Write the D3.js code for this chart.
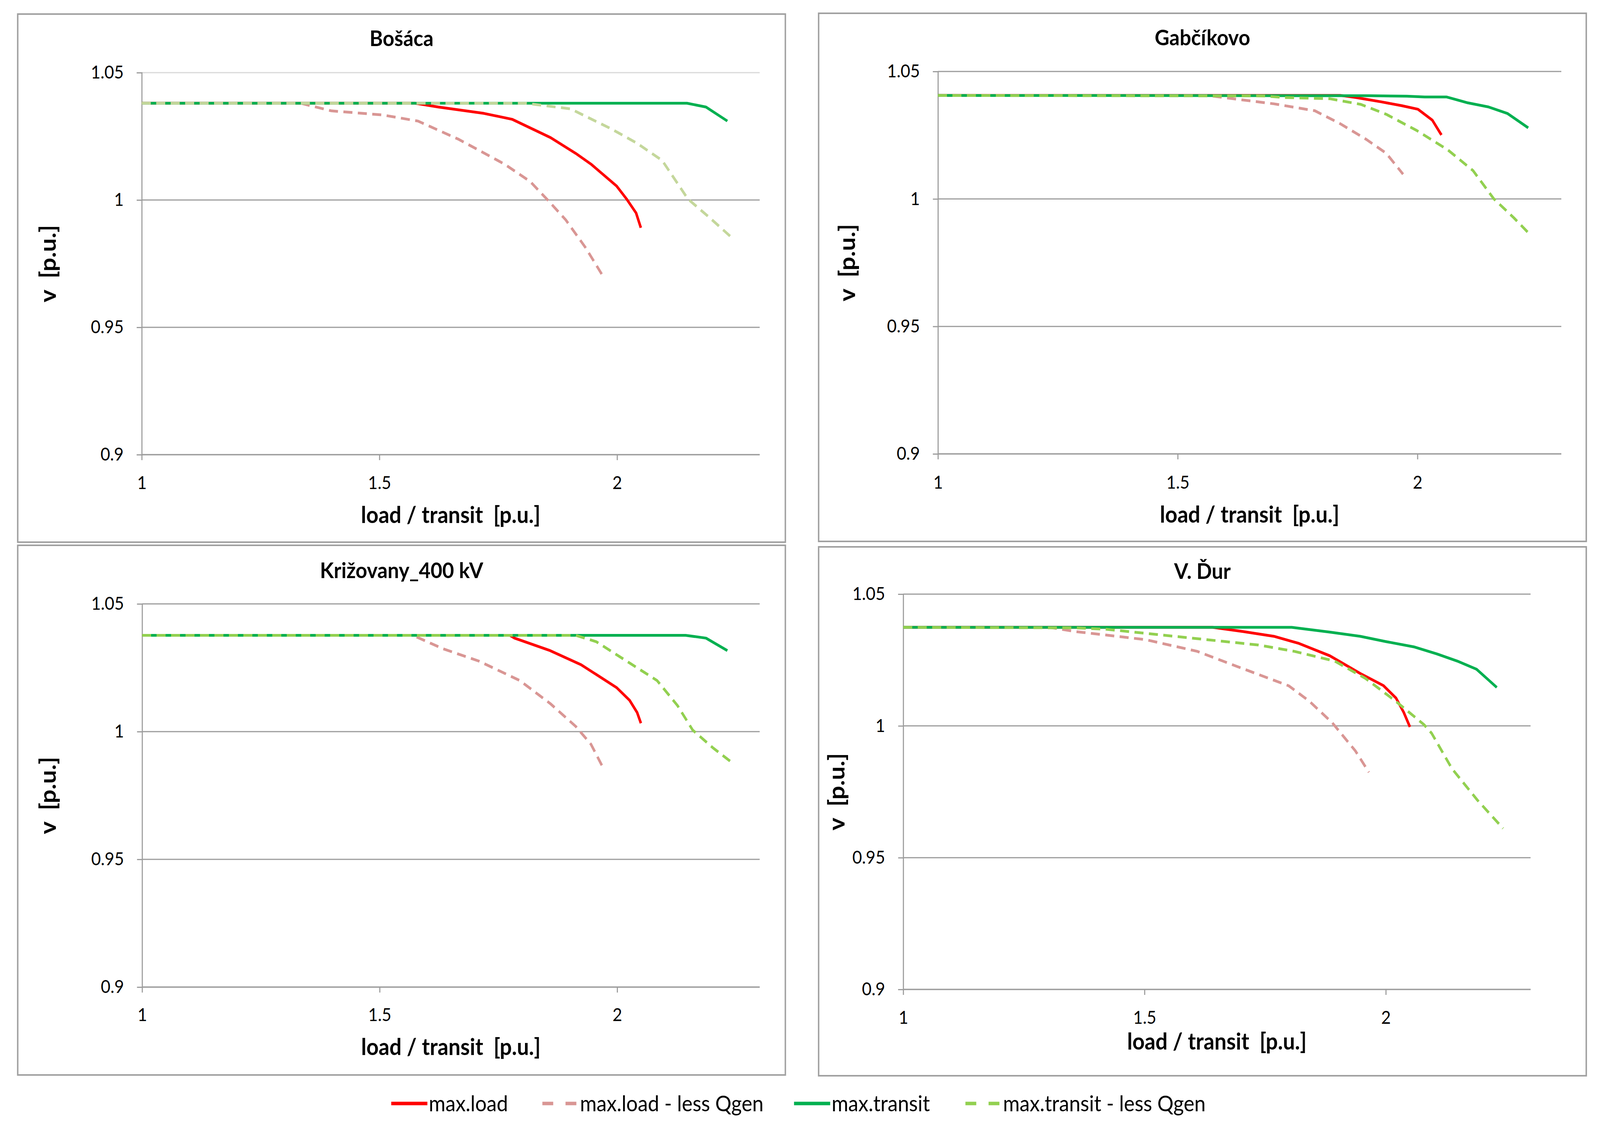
<!DOCTYPE html>
<html>
<head>
<meta charset="utf-8">
<script src="https://cdn.jsdelivr.net/npm/d3@7"></script>
<style>
  html, body { margin: 0; padding: 0; background: #fff; overflow: hidden; }
  svg { display: block; }
  text { font-family: Lato, "Open Sans", sans-serif; fill: #000; }
</style>
</head>
<body>
<div id="chart-container"></div>
<script>
// values: [load / transit, v]
var bosacaMaxLoad = [[1, 1.038], [1.575, 1.038], [1.624, 1.0365], [1.72, 1.034], [1.779, 1.0317], [1.86, 1.0245],
    [1.913, 1.0183], [1.945, 1.0141], [1.999, 1.0055], [2.02, 1.0004], [2.04, 0.9949], [2.05, 0.9891]];
var bosacaLoadLessQ = [[1, 1.038], [1.334, 1.038], [1.399, 1.035], [1.506, 1.0334], [1.581, 1.031], [1.667, 1.0238],
    [1.763, 1.0141], [1.817, 1.0073], [1.854, 1.0], [1.892, 0.9922], [1.934, 0.9812], [1.97, 0.9702]];
var bosacaMaxTransit = [[1, 1.038], [2.147, 1.038], [2.187, 1.0365], [2.232, 1.031]];
var bosacaTransitLessQ = [[1, 1.038], [1.806, 1.038], [1.902, 1.0358], [1.988, 1.0279], [2.041, 1.0224], [2.095, 1.0155],
    [2.149, 1.0004], [2.192, 0.9935], [2.245, 0.9846]];

var gabcikovoMaxLoad = [[1, 1.0406], [1.84, 1.0406], [1.871, 1.0398], [1.924, 1.0381], [1.967, 1.0366], [2.001, 1.0352],
    [2.031, 1.0309], [2.05, 1.0251]];
var gabcikovoLoadLessQ = [[1, 1.0406], [1.563, 1.0406], [1.616, 1.0393], [1.701, 1.0373], [1.786, 1.0346], [1.839, 1.0295],
    [1.893, 1.0234], [1.935, 1.0179], [1.97, 1.0097]];
var gabcikovoMaxTransit = [[1, 1.0406], [1.9, 1.0405], [1.978, 1.0403], [2.015, 1.04], [2.061, 1.04], [2.105, 1.0377],
    [2.148, 1.0361], [2.188, 1.0335], [2.231, 1.0279]];
var gabcikovoTransitLessQ = [[1, 1.0406], [1.68, 1.0404], [1.722, 1.0398], [1.818, 1.0393], [1.882, 1.0371], [1.935, 1.0332],
    [1.999, 1.0268], [2.063, 1.0193], [2.116, 1.0111], [2.159, 1.0001], [2.201, 0.9926], [2.236, 0.9858]];

var krizovanyMaxLoad = [[1, 1.0377], [1.774, 1.0377], [1.784, 1.0366], [1.859, 1.0317], [1.924, 1.0262], [1.999, 1.0172],
    [2.026, 1.0123], [2.042, 1.0075], [2.05, 1.0033]];
var krizovanyLoadLessQ = [[1, 1.0377], [1.57, 1.0377], [1.634, 1.0324], [1.709, 1.0276], [1.795, 1.02], [1.859, 1.011],
    [1.913, 1.002], [1.945, 0.995], [1.97, 0.986]];
var krizovanyMaxTransit = [[1, 1.0377], [2.144, 1.0377], [2.187, 1.0366], [2.232, 1.0317]];
var krizovanyTransitLessQ = [[1, 1.0377], [1.913, 1.0377], [1.956, 1.0352], [2.02, 1.0276], [2.084, 1.02], [2.127, 1.0102],
    [2.159, 1.0006], [2.202, 0.9936], [2.245, 0.9874]];

var vdurMaxLoad = [[1, 1.0374], [1.641, 1.0374], [1.704, 1.0358], [1.768, 1.034], [1.82, 1.0313], [1.884, 1.0266],
    [1.947, 1.0199], [1.995, 1.0153], [2.021, 1.0106], [2.037, 1.0052], [2.05, 0.9996]];
var vdurLoadLessQ = [[1, 1.0374], [1.303, 1.0374], [1.356, 1.0358], [1.419, 1.0345], [1.503, 1.0327], [1.609, 1.0283],
    [1.694, 1.0224], [1.799, 1.0152], [1.842, 1.0093], [1.889, 1.0012], [1.937, 0.9905], [1.965, 0.9824]];
var vdurMaxTransit = [[1, 1.0374], [1.805, 1.0374], [1.884, 1.0356], [1.947, 1.034], [2.0, 1.032], [2.058, 1.03],
    [2.106, 1.0273], [2.148, 1.0246], [2.188, 1.0215], [2.23, 1.0146]];
var vdurTransitLessQ = [[1, 1.0374], [1.356, 1.0372], [1.419, 1.0367], [1.525, 1.0347], [1.63, 1.0327], [1.736, 1.0307],
    [1.81, 1.0283], [1.894, 1.0246], [1.958, 1.018], [2.021, 1.0093], [2.079, 1.0005], [2.095, 0.9972],
    [2.137, 0.9838], [2.19, 0.9718], [2.243, 0.9611]];

var seriesNames = ["max.load", "max.load - less Qgen", "max.transit", "max.transit - less Qgen"];
var xTicks = [1, 1.5, 2];
var yTicks = [0.9, 0.95, 1, 1.05];
var titles = ["Bošáca", "Gabčíkovo", "Križovany_400 kV", "V. Ďur"];

var seriesColors = ["#ff0000", "#d99694", "#00b050", "#92d050"];
var seriesDash = [null, "25,15", null, "25,15"];

// drawing is laid out on the reference's 4425 x 2898 grid and stretched to the window
var W = 4425, H = 2898;

// frame + plot rectangles
var layout = [
    { frame: [49, 36, 2172, 1388], plot: [392, 2101, 186, 1164], titleY: 98, xlabY: 1318, ylabX: 133, tickY: 1236 },
    { frame: [2264, 34, 4387, 1386], plot: [2594, 4318, 183, 1162], titleY: 96, xlabY: 1317, ylabX: 2343, tickY: 1235 },
    { frame: [49, 1396, 2172, 2752], plot: [393, 2101, 1546, 2527], titleY: 1460, xlabY: 2680, ylabX: 133, tickY: 2598 },
    { frame: [2264, 1400, 4387, 2754], plot: [2498, 4233, 1521, 2533], titleY: 1462, xlabY: 2666, ylabX: 2314, tickY: 2605 }
];

var panelData = [
    [bosacaMaxLoad, bosacaLoadLessQ, bosacaMaxTransit, bosacaTransitLessQ],
    [gabcikovoMaxLoad, gabcikovoLoadLessQ, gabcikovoMaxTransit, gabcikovoTransitLessQ],
    [krizovanyMaxLoad, krizovanyLoadLessQ, krizovanyMaxTransit, krizovanyTransitLessQ],
    [vdurMaxLoad, vdurLoadLessQ, vdurMaxTransit, vdurTransitLessQ]
];

var svg = d3.select("#chart-container")
    .append("svg")
    .attr("viewBox", "0 0 " + W + " " + H)
    .attr("preserveAspectRatio", "none")
    .style("width", "100vw")
    .style("height", "100vh");

svg.append("rect").attr("width", W).attr("height", H).attr("fill", "#fff");

var createPanel = function (i) {
    var L = layout[i];
    var g = svg.append("g");

    g.append("rect")
        .attr("x", L.frame[0]).attr("y", L.frame[1])
        .attr("width", L.frame[2] - L.frame[0])
        .attr("height", L.frame[3] - L.frame[1])
        .attr("fill", "#fff")
        .attr("stroke", "#a0a0a0")
        .attr("stroke-width", 4);

    var x = d3.scaleLinear().domain([1, 2.3]).range([L.plot[0], L.plot[1]]);
    var y = d3.scaleLinear().domain([0.9, 1.05]).range([L.plot[3], L.plot[2]]);

    // horizontal gridlines
    g.selectAll(".grid")
        .data(yTicks)
        .enter()
        .append("line")
        .attr("x1", x(1)).attr("x2", x(2.3))
        .attr("y1", function (d) { return y(d); })
        .attr("y2", function (d) { return y(d); })
        .attr("stroke", function (d) {
            return (i === 0 && d === 1.05) ? "#d9d9d9" : "#9c9c9c";
        })
        .attr("stroke-width", 3);

    var yAxis = d3.axisLeft(y).tickValues(yTicks).tickSize(14).tickPadding(36)
        .tickFormat(function (d) { return String(d); });
    var xAxis = d3.axisBottom(x).tickValues(xTicks).tickSize(14).tickPadding(36)
        .tickFormat(function (d) { return String(d); });

    var ya = g.append("g")
        .attr("transform", "translate(" + x(1) + ",0)")
        .call(yAxis);
    var xa = g.append("g")
        .attr("transform", "translate(0," + y(0.9) + ")")
        .call(xAxis);

    [ya, xa].forEach(function (a) {
        a.select(".domain").attr("stroke", "#9c9c9c").attr("stroke-width", 3);
        a.selectAll(".tick line").attr("stroke", "#9c9c9c").attr("stroke-width", 3);
        a.selectAll(".tick text")
            .attr("font-size", 46)
            .attr("font-family", "Lato, 'Open Sans', sans-serif")
            .attr("fill", "#000");
    });
    xa.select(".domain").attr("d", "M" + x(1) + ",0H" + x(2.3));
    xa.selectAll(".tick text").attr("y", L.tickY - y(0.9)).attr("dy", "0.35em");

    var line = d3.line()
        .x(function (d) { return x(d[0]); })
        .y(function (d) { return y(d[1]); });

    panelData[i].forEach(function (pts, s) {
        var col = seriesColors[s];
        if (i === 0 && s === 3) col = "#c4d79b";
        g.append("path")
            .datum(pts)
            .attr("d", line)
            .attr("fill", "none")
            .attr("stroke", col)
            .attr("stroke-width", 7)
            .attr("stroke-linejoin", "round")
            .attr("stroke-dasharray", seriesDash[s]);
    });

    g.append("text")
        .attr("x", (L.frame[0] + L.frame[2]) / 2)
        .attr("y", L.titleY)
        .attr("dy", "0.35em")
        .attr("text-anchor", "middle")
        .attr("font-size", 56)
        .attr("font-weight", "bold")
        .text(titles[i]);

    g.append("text")
        .attr("x", (x(1) + x(2.3)) / 2)
        .attr("y", L.xlabY)
        .attr("dy", "0.35em")
        .attr("text-anchor", "middle")
        .attr("font-size", 59)
        .attr("font-weight", "bold")
        .attr("xml:space", "preserve")
        .text("load / transit  [p.u.]");

    g.append("text")
        .attr("transform", "translate(" + L.ylabX + "," + (y(0.9) + y(1.05)) / 2 + ") rotate(-90)")
        .attr("dy", "0.35em")
        .attr("text-anchor", "middle")
        .attr("font-size", 62)
        .attr("font-weight", "bold")
        .attr("xml:space", "preserve")
        .text("v  [p.u.]");
};

for (var i = 0; i < 4; i++) {
    createPanel(i);
}

// legend
var legendX = [1082, 1500, 2196, 2670];
var legend = svg.append("g");
seriesNames.forEach(function (name, s) {
    var lx = legendX[s];
    legend.append("line")
        .attr("x1", lx).attr("x2", lx + 100)
        .attr("y1", 2825).attr("y2", 2825)
        .attr("stroke", seriesColors[s])
        .attr("stroke-width", 9)
        .attr("stroke-dasharray", seriesDash[s] ? "30,34" : null);
    legend.append("text")
        .attr("x", lx + 104)
        .attr("y", 2825)
        .attr("dy", "0.35em")
        .attr("font-size", 56)
        .text(name);
});
</script>
</body>
</html>
